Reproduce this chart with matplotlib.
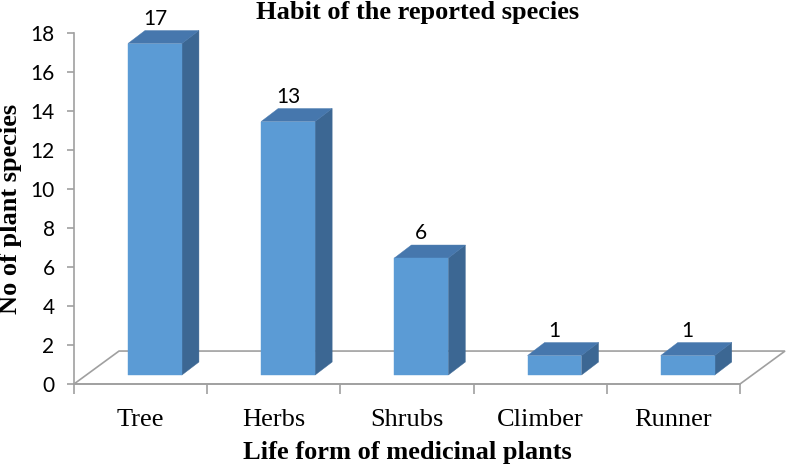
import matplotlib.pyplot as plt
from matplotlib.patches import Polygon

categories = ["Tree", "Herbs", "Shrubs", "Climber", "Runner"]
counts = [17, 13, 6, 1, 1]
yticks = [0, 2, 4, 6, 8, 10, 12, 14, 16, 18]

# pseudo-3D geometry (data units: x = category, y = value)
FLOOR_DX, FLOOR_DY = 0.338, 1.69
BAR_X0, BAR_W = -0.095, 0.405
BAR_Y0 = 0.46
DEPTH_DX, DEPTH_DY = 0.128, 0.667

FRONT = "#5B9BD5"
SIDE = "#3C6793"
TOP = "#4677AD"
GRID = "#A0A0A0"

fig = plt.figure(figsize=(7.87, 4.68), dpi=100)
ax = fig.add_axes([74 / 787, 1 - 384 / 468, 666 / 787, 351 / 468])
ax.set_xlim(-0.5, len(categories) - 0.5)
ax.set_ylim(0, 18)

# floor outline
n = len(categories)
floor = [(-0.5, 0), (-0.5 + FLOOR_DX, FLOOR_DY), (n - 0.5 + FLOOR_DX, FLOOR_DY), (n - 0.5, 0)]
ax.add_patch(Polygon(floor, closed=True, fill=False, edgecolor=GRID, lw=1.2,
                     clip_on=False, zorder=1))

for i, v in enumerate(counts):
    x0 = i + BAR_X0
    x1 = x0 + BAR_W
    y0 = BAR_Y0
    y1 = BAR_Y0 + v
    front = [(x0, y0), (x1, y0), (x1, y1), (x0, y1)]
    side = [(x1, y0), (x1 + DEPTH_DX, y0 + DEPTH_DY), (x1 + DEPTH_DX, y1 + DEPTH_DY), (x1, y1)]
    top = [(x0, y1), (x1, y1), (x1 + DEPTH_DX, y1 + DEPTH_DY), (x0 + DEPTH_DX, y1 + DEPTH_DY)]
    for pts, c in [(side, SIDE), (top, TOP), (front, FRONT)]:
        ax.add_patch(Polygon(pts, closed=True, facecolor=c, edgecolor=c, lw=0.3,
                             clip_on=False, zorder=3))
    ax.text((x0 + x1) / 2, y1 + DEPTH_DY + 0.1, str(v), ha="center", va="bottom",
            fontsize=15, family="Lato", zorder=4)

for s in ["top", "right"]:
    ax.spines[s].set_visible(False)
for s in ["left", "bottom"]:
    ax.spines[s].set_color(GRID)
    ax.spines[s].set_linewidth(1.2)

ax.set_yticks(yticks)
ax.set_yticklabels([str(t) for t in yticks], family="Lato", fontsize=15)
ax.tick_params(axis="y", length=5, width=1.2, color=GRID, pad=9)

ax.set_xticks([i - 0.5 for i in range(n + 1)])
ax.set_xticklabels([])
ax.tick_params(axis="x", which="major", length=7, width=1.2, color=GRID)
ax.set_xticks(range(n), minor=True)
ax.set_xticklabels(categories, minor=True, family="Liberation Serif", fontsize=19)
ax.tick_params(axis="x", which="minor", length=0, pad=18)

fig.text(418 / 787, 1 - 19 / 468, "Habit of the reported species", ha="center",
         va="baseline", family="Liberation Serif", fontweight="bold", fontsize=19)
fig.text(407 / 787, 1 - 459 / 468, "Life form of medicinal plants", ha="center",
         va="baseline", family="Liberation Serif", fontweight="bold", fontsize=19)
fig.text(11 / 787, 1 - 209 / 468, "No of plant species", ha="center", va="center",
         rotation=90, family="Liberation Serif", fontweight="bold", fontsize=19)

fig.savefig("out.png", dpi=100)
